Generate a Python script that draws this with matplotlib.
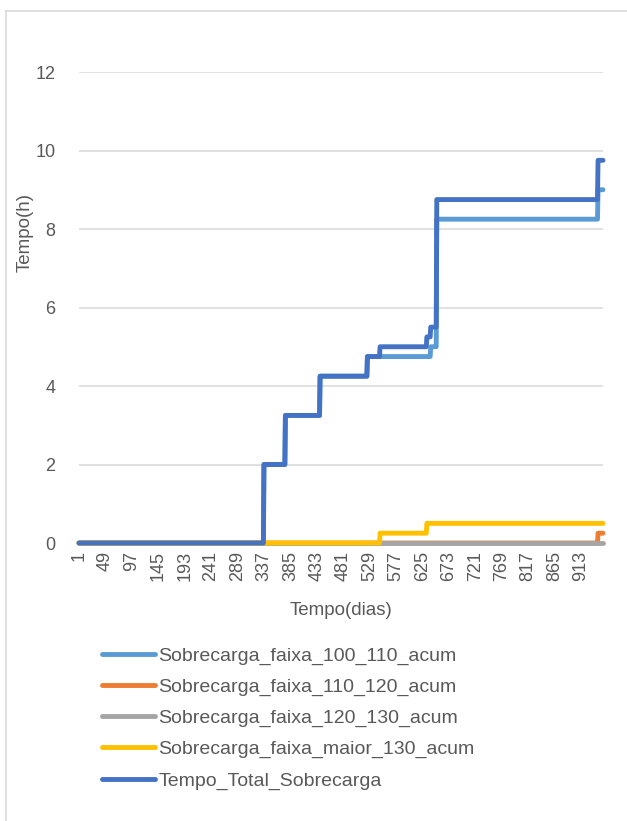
import numpy as np
import matplotlib
matplotlib.use("Agg")
import matplotlib.pyplot as plt
from matplotlib.lines import Line2D

plt.rcParams['font.family'] = ['Liberation Sans', 'DejaVu Sans']

W, H = 627, 821
n_days = 953

# change points (day, accumulated hours) of each series
faixa_100_110_dias = [1, 337, 376, 439, 525, 640, 651, 944]
faixa_100_110_h = [0, 2.0, 3.25, 4.25, 4.75, 5.0, 8.25, 9.0]
faixa_110_120_dias = [1, 944]
faixa_110_120_h = [0, 0.25]
faixa_120_130_dias = [1]
faixa_120_130_h = [0]
faixa_maior_130_dias = [1, 548, 633]
faixa_maior_130_h = [0, 0.25, 0.5]
total_dias = [1, 337, 376, 439, 525, 548, 633, 640, 651, 944]
total_h = [0, 2.0, 3.25, 4.25, 4.75, 5.0, 5.25, 5.5, 8.75, 9.75]

nomes = ["Sobrecarga_faixa_100_110_acum", "Sobrecarga_faixa_110_120_acum",
         "Sobrecarga_faixa_120_130_acum", "Sobrecarga_faixa_maior_130_acum",
         "Tempo_Total_Sobrecarga"]
cores = ["#5B9BD5", "#ED7D31", "#A5A5A5", "#FFC000", "#4472C4"]

dias = np.arange(1, n_days + 1)


def serie(pontos, valores):
    idx = np.searchsorted(pontos, dias, side='right') - 1
    return np.asarray(valores)[idx]


series = [serie(faixa_100_110_dias, faixa_100_110_h),
          serie(faixa_110_120_dias, faixa_110_120_h),
          serie(faixa_120_130_dias, faixa_120_130_h),
          serie(faixa_maior_130_dias, faixa_maior_130_h),
          serie(total_dias, total_h)]

fig = plt.figure(figsize=(W / 100, H / 100), dpi=100)
ax = fig.add_axes([79 / W, 1 - 543 / H, (603 - 79) / W, (543 - 72) / H])

for y, nome, cor in zip(series, nomes, cores):
    ax.plot(dias, y, color=cor, lw=3.5, label=nome, clip_on=False,
            solid_joinstyle='round', solid_capstyle='round')

ax.set_xlim(1, n_days)
ax.set_ylim(0, 12)
ax.set_yticks(np.arange(0, 13, 2))
ax.set_xticks(np.arange(1, n_days + 1, 48))
ax.set_xticklabels([str(d) for d in np.arange(1, n_days + 1, 48)],
                   rotation=90, va='top', ha='center')
ax.grid(axis='y', color='#D9D9D9', lw=1.1)
ax.set_axisbelow(True)
for s in ax.spines.values():
    s.set_visible(False)
ax.tick_params(length=0, labelsize=13, colors='#595959', pad=6)
ax.tick_params(axis='y', pad=17)

fig.text(25 / W, 1 - 233 / H, "Tempo(h)", rotation=90, ha='center',
         va='center', fontsize=13.5, color='#595959')
fig.text(341 / W, 1 - 610 / H, "Tempo(dias)", ha='center', va='center',
         fontsize=13.5, color='#595959')

ax.legend(loc='upper left', bbox_to_anchor=(102 / W, 1 - 647 / H),
          bbox_transform=fig.transFigure, frameon=False, fontsize=14,
          handlelength=2.75, handletextpad=0.15, labelspacing=0.69,
          borderpad=0, borderaxespad=0, labelcolor='#595959')

# chart frame
fig.add_artist(Line2D([6 / W, 6 / W], [0, 1 - 11 / H], color='#D9D9D9', lw=1.2))
fig.add_artist(Line2D([6 / W, 1], [1 - 11 / H, 1 - 11 / H], color='#D9D9D9', lw=1.2))

fig.savefig("out.png", dpi=100)
